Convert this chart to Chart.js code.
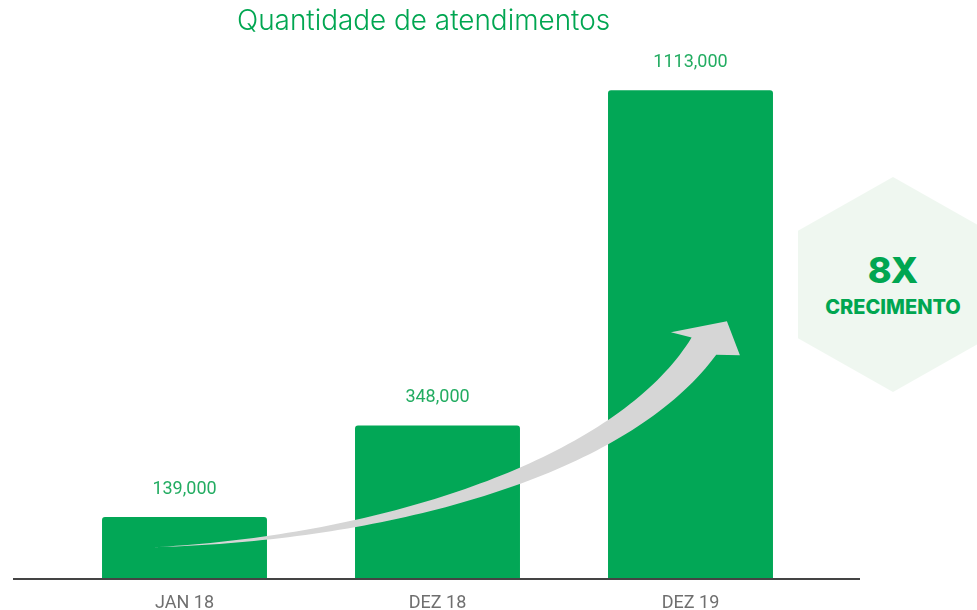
<!DOCTYPE html>
<html>
<head>
<meta charset="utf-8">
<script src="https://cdn.jsdelivr.net/npm/chart.js@4"></script>
<style>
  body { margin: 0; background: #fff; }
  #wrap { position: relative; width: 977px; height: 610px; overflow: hidden; }
  #title { position: absolute; left: 237px; top: 3px; font: 300 27.9px Inter, sans-serif; color: #00a651; white-space: nowrap; }
  #hex { position: absolute; left: 798px; top: 177px; width: 190px; height: 215px; background: #eff7f0;
         clip-path: polygon(50% 0, 100% 25%, 100% 75%, 50% 100%, 0 75%, 0 25%); }
  #hex .big { position: absolute; left: 0; width: 190px; top: 71px; text-align: center; font: 800 36px Inter, sans-serif; color: #00a651; }
  #hex .small { position: absolute; left: 0; width: 190px; top: 118px; text-align: center; font: 800 20px Inter, sans-serif; color: #00a651; }
  canvas { position: absolute; left: 0; top: 0; }
</style>
</head>
<body>
<div id="wrap">
  <canvas id="chart" width="977" height="610"></canvas>
  <div id="title">Quantidade de atendimentos</div>
  <div id="hex"><div class="big">8X</div><div class="small">CRECIMENTO</div></div>
</div>
<script>
const categories = ['JAN 18', 'DEZ 18', 'DEZ 19'];
const atendimentos = [139000, 348000, 1113000];
const valueLabels = ['139,000', '348,000', '1113,000'];

// growth arrow, in data space: [category index, value]
const arrowPath = [[-0.136, 70000], [0.773, 89000], [1.724, 248000], [2.053, 529000]];

const valueLabelPlugin = {
  id: 'valueLabels',
  afterDatasetsDraw(c) {
    const ctx = c.ctx;
    const meta = c.getDatasetMeta(0);
    ctx.save();
    ctx.font = '18px Roboto';
    ctx.fillStyle = '#22ac61';
    ctx.textAlign = 'center';
    ctx.textBaseline = 'middle';
    meta.data.forEach((bar, i) => {
      ctx.fillText(valueLabels[i], bar.x, bar.y - 28);
    });
    ctx.restore();
  }
};

const baselinePlugin = {
  id: 'baseline',
  afterDatasetsDraw(c) {
    const ctx = c.ctx;
    const y = c.scales.y.getPixelForValue(0);
    ctx.save();
    ctx.strokeStyle = '#444';
    ctx.lineWidth = 2;
    ctx.beginPath();
    ctx.moveTo(c.chartArea.left - 45, y + 1);
    ctx.lineTo(c.chartArea.right + 43, y + 1);
    ctx.stroke();
    ctx.restore();
  }
};

const arrowPlugin = {
  id: 'arrow',
  afterDatasetsDraw(c) {
    const ctx = c.ctx;
    const xs = c.scales.x, ys = c.scales.y;
    const p = arrowPath.map(([i, v]) => [xs.getPixelForValue(i), ys.getPixelForValue(v)]);
    const pt = (t) => {
      const a = (1 - t) ** 3, b = 3 * (1 - t) ** 2 * t, d = 3 * (1 - t) * t * t, e = t ** 3;
      return [a * p[0][0] + b * p[1][0] + d * p[2][0] + e * p[3][0], a * p[0][1] + b * p[1][1] + d * p[2][1] + e * p[3][1]];
    };
    const left = [], right = [];
    const N = 80;
    for (let k = 0; k <= N; k++) {
      const t = k / N;
      const q = pt(t), q2 = pt(Math.min(1, t + 0.01)), q1 = pt(Math.max(0, t - 0.01));
      let dx = q2[0] - q1[0], dy = q2[1] - q1[1];
      const len = Math.hypot(dx, dy);
      dx /= len; dy /= len;
      const w = 15 * Math.pow(t, 1.2);
      left.push([q[0] + dy * w, q[1] - dx * w]);
      right.push([q[0] - dy * w, q[1] + dx * w]);
    }
    const end = p[3];
    ctx.save();
    ctx.fillStyle = '#d6d6d6';
    ctx.beginPath();
    ctx.moveTo(right[0][0], right[0][1]);
    right.forEach(r => ctx.lineTo(r[0], r[1]));
    // head
    ctx.lineTo(end[0] + 36, end[1] + 9);
    ctx.lineTo(end[0] + 23, end[1] - 25);
    ctx.lineTo(end[0] - 33, end[1] - 14);
    for (let k = left.length - 1; k >= 0; k--) ctx.lineTo(left[k][0], left[k][1]);
    ctx.closePath();
    ctx.fill();
    ctx.restore();
  }
};

new Chart(document.getElementById('chart'), {
  type: 'bar',
  data: {
    labels: categories,
    datasets: [{
      data: atendimentos,
      backgroundColor: '#02a756',
      borderRadius: { topLeft: 3, topRight: 3 },
      borderSkipped: 'bottom',
      categoryPercentage: 1,
      barPercentage: 0.652
    }]
  },
  options: {
    responsive: false,
    animation: false,
    layout: { padding: { left: 58, right: 160, top: 10, bottom: -18 } },
    plugins: { legend: { display: false }, tooltip: { enabled: false } },
    scales: {
      x: {
        grid: { display: false, drawTicks: false },
        border: { display: false },
        ticks: { color: '#6f6f6f', padding: 16, font: { family: 'Roboto', size: 18, lineHeight: 1 } }
      },
      y: { display: false, min: 0, max: 1296000 }
    }
  },
  plugins: [baselinePlugin, arrowPlugin, valueLabelPlugin]
});
</script>
</body>
</html>
